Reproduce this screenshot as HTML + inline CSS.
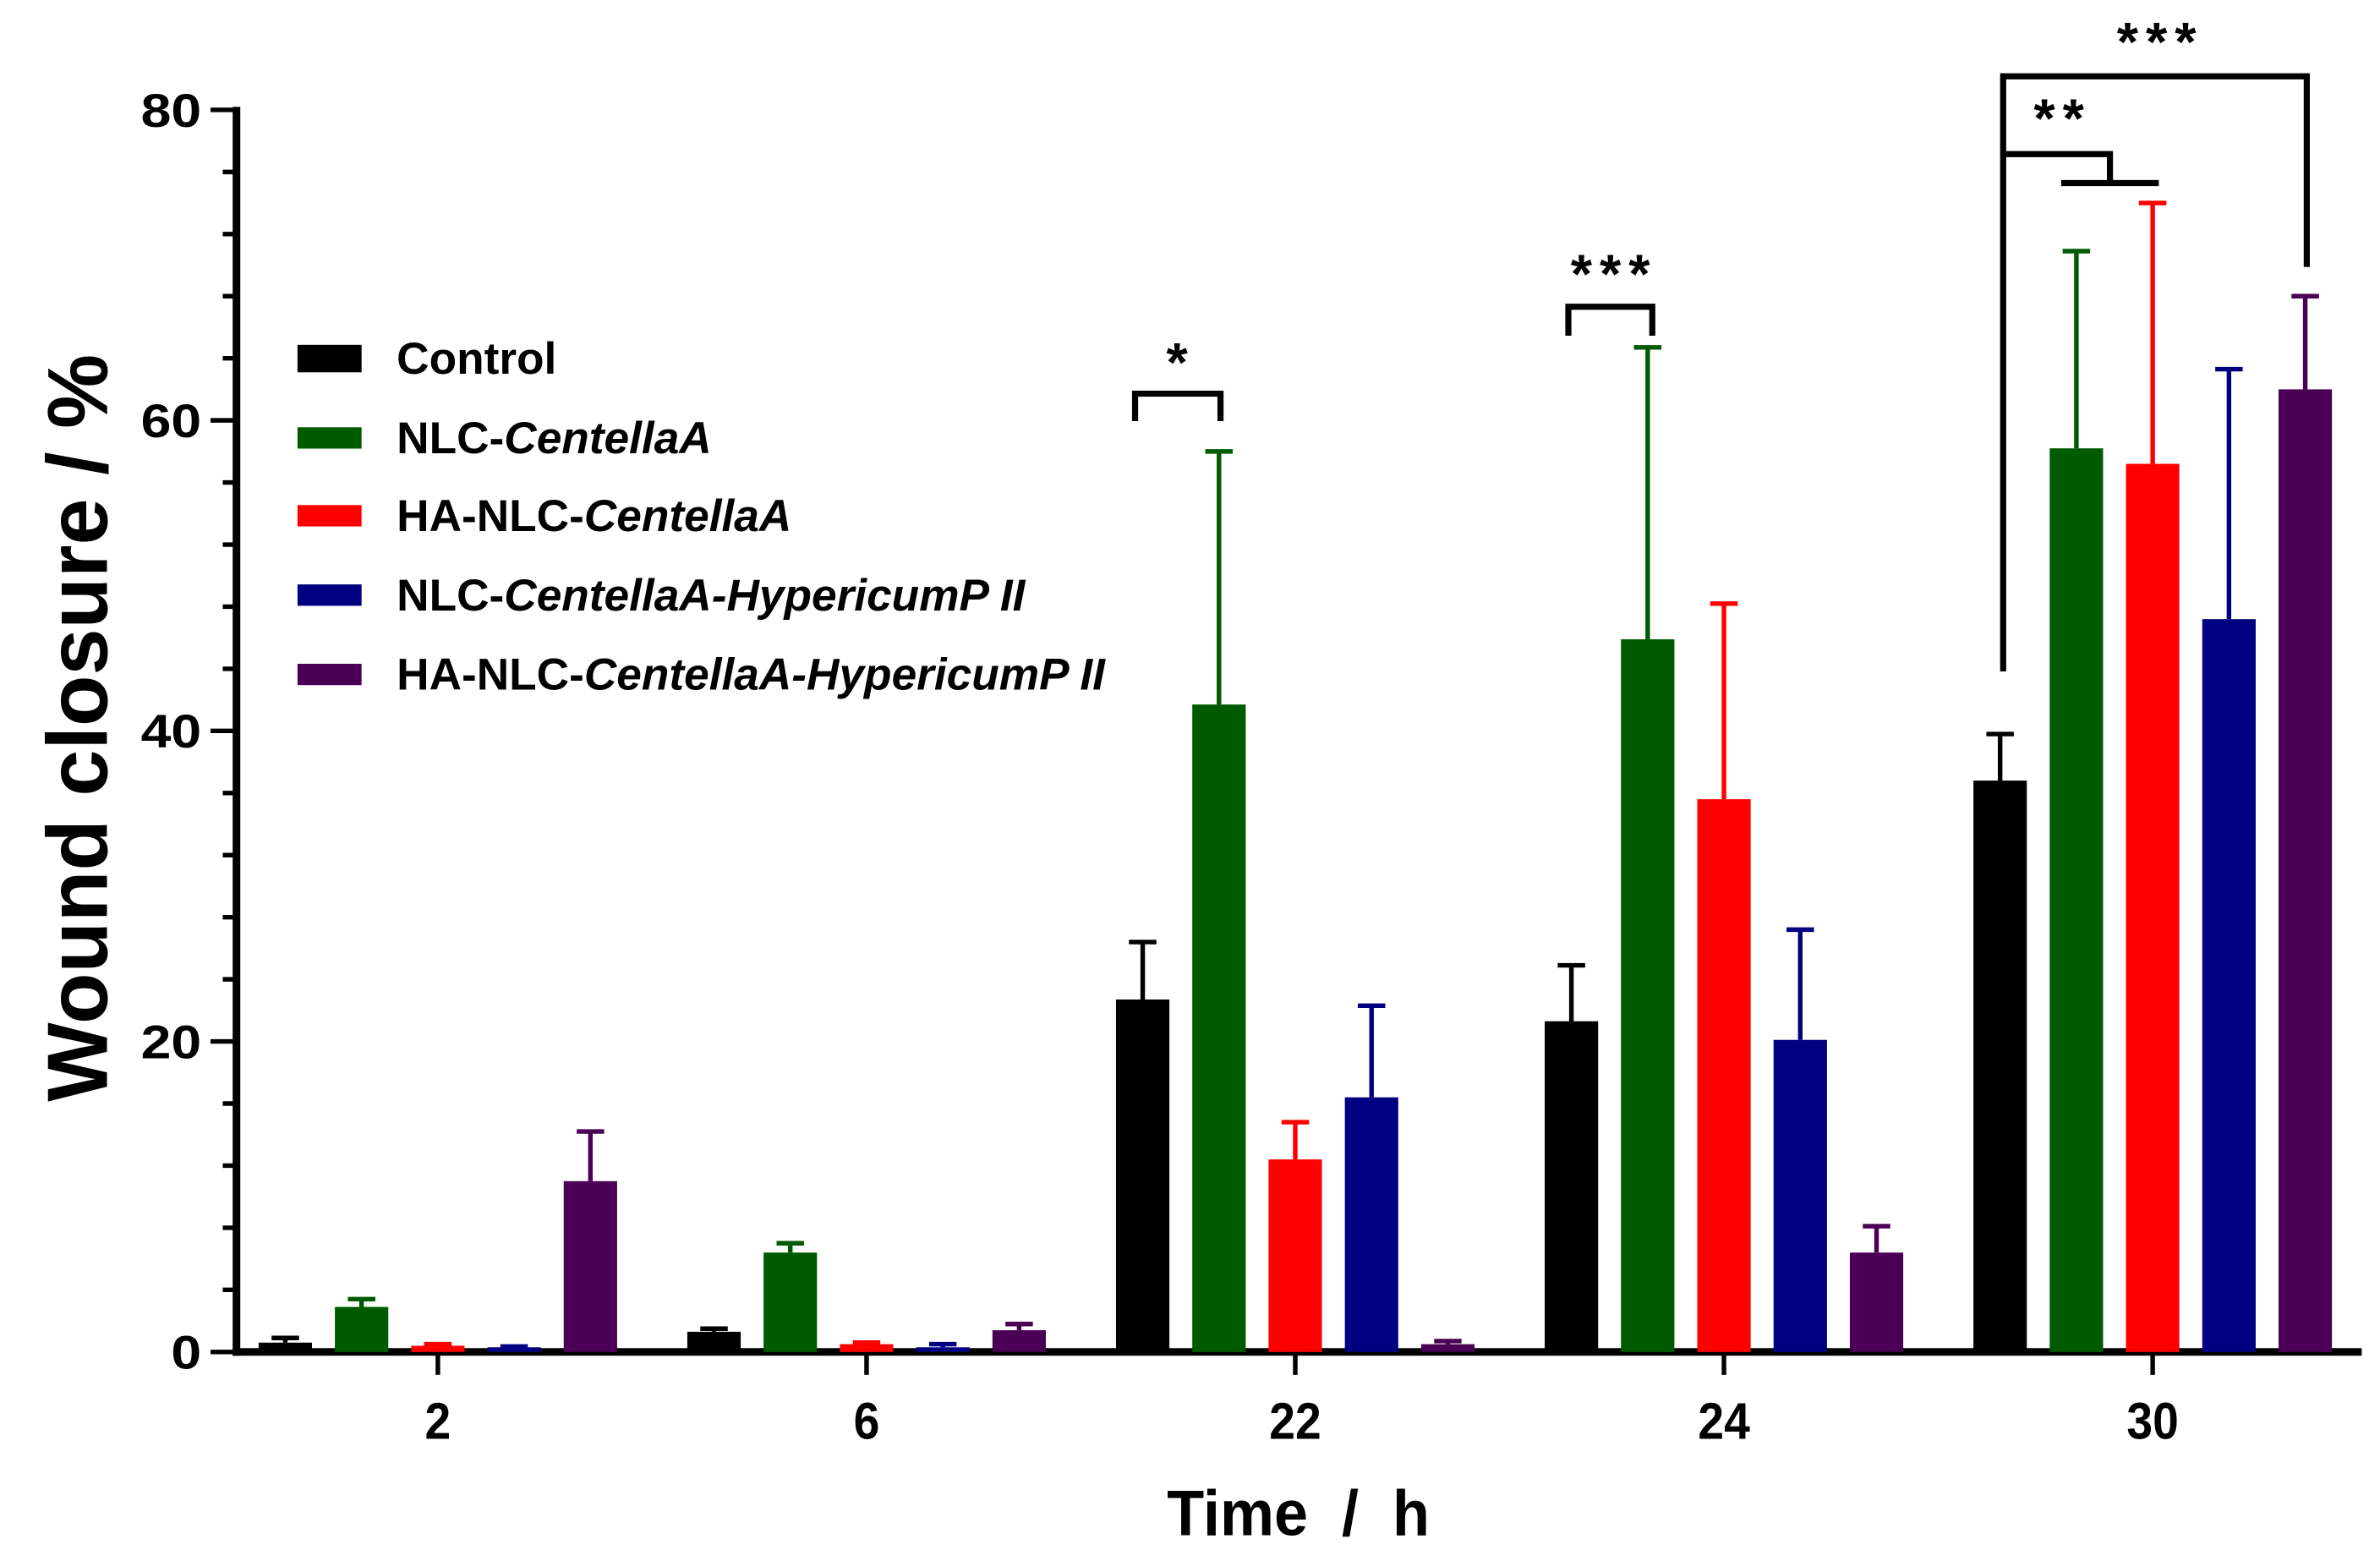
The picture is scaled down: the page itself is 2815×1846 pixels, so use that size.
<!DOCTYPE html>
<html><head><meta charset="utf-8">
<style>
html,body{margin:0;padding:0;background:#fff;}
svg{display:block;}
text{font-family:"Liberation Sans",sans-serif;font-weight:bold;fill:#000;}
</style></head>
<body>
<svg id="chart" width="2815" height="1846" viewBox="0 0 1560 1023" xmlns="http://www.w3.org/2000/svg">
<g id="axes"></g>
<g id="bars"></g>
<g id="sig"></g>
<g id="legend"></g>
<text transform="translate(70,477) rotate(-90) scale(0.98,1)" text-anchor="middle" font-size="56">Wound closure / %</text>
<text transform="translate(851,1006) scale(0.95,1)" text-anchor="middle" font-size="42" xml:space="preserve">Time  /  h</text>
</svg>
<script>
const categories = ["2","6","22","24","30"];
const seriesNames = ["Control","NLC-","HA-NLC-","NLC-","HA-NLC-"];
const seriesItalic = ["","CentellaA","CentellaA","CentellaA-HypericumP II","CentellaA-HypericumP II"];
const seriesColors = ["#000000","#005a00","#ff0000","#000080","#4a0055"];
const controlVals = [0.6,1.3,22.7,21.3,36.8];
const nlcVals = [2.9,6.4,41.7,45.9,58.2];
const haNlcVals = [0.4,0.5,12.4,35.6,57.2];
const nlcHypVals = [0.3,0.3,16.4,20.1,47.2];
const haNlcHypVals = [11.0,1.4,0.5,6.4,62.0];
const controlErr = [0.3,0.2,3.7,3.6,3.0];
const nlcErr = [0.5,0.6,16.3,18.8,12.7];
const haNlcErr = [0.1,0.1,2.4,12.6,16.8];
const nlcHypErr = [0.05,0.2,5.9,7.1,16.1];
const haNlcHypErr = [3.2,0.4,0.2,1.7,6.0];
const yTicks = [0,20,40,60,80];

const NS="http://www.w3.org/2000/svg";
const x0=155,x1=1548,yTop=72,yBot=886;
const yS=v=>yBot-(v/80)*(yBot-yTop);
const gx=i=>287+i*281;
const pitch=50,bw=35;
function mk(tag,attrs,parent){const e=document.createElementNS(NS,tag);for(const k in attrs)e.setAttribute(k,attrs[k]);parent.appendChild(e);return e;}

const axes=document.getElementById('axes');
let e=mk('line',{x1:x0,y1:yTop-2,x2:x0,y2:yBot+2.5,stroke:'#000','stroke-width':5},axes);


for(let v=0;v<=80;v+=4){
  const major=v%20===0;
  e=mk('line',{x1:major?138:146,y1:yS(v),x2:x0,y2:yS(v),stroke:'#000','stroke-width':3},axes);
  
  
}
yTicks.forEach(v=>{
  e=mk('text',{x:0,y:0,'text-anchor':'end','font-size':31,transform:`translate(132,${yS(v)+11}) scale(1.15,1)`},axes);
  e.textContent=v;
  
  
});
e=mk('line',{x1:x0-2.5,y1:yBot,x2:x1,y2:yBot,stroke:'#000','stroke-width':5},axes);


categories.forEach((c,i)=>{
  e=mk('line',{x1:gx(i),y1:yBot,x2:gx(i),y2:yBot+15,stroke:'#000','stroke-width':3},axes);
  
  
  e=mk('text',{x:0,y:0,'text-anchor':'middle','font-size':34,transform:`translate(${gx(i)},${yBot+57}) scale(0.9,1)`},axes);
  e.textContent=c;
  
  
});

const vals=[controlVals,nlcVals,haNlcVals,nlcHypVals,haNlcHypVals];
const errs=[controlErr,nlcErr,haNlcErr,nlcHypErr,haNlcHypErr];
const bars=document.getElementById('bars');
categories.forEach((c,i)=>{
  for(let s=0;s<5;s++){
    const cx=gx(i)+(s-2)*pitch, v=vals[s][i], er=errs[s][i], col=seriesColors[s];
    const yt=yS(v+er);
    e=mk('line',{x1:cx,y1:yS(v),x2:cx,y2:yt,stroke:col,'stroke-width':3},bars);
    
    
    e=mk('line',{x1:cx-9,y1:yt,x2:cx+9,y2:yt,stroke:col,'stroke-width':3},bars);
    
    
    e=mk('rect',{x:cx-bw/2,y:yS(v),width:bw,height:yBot-yS(v),fill:col},bars);
    
    
  }
});

const sig=document.getElementById('sig');
function path(d,name){const p=mk('path',{d:d,fill:'none',stroke:'#000','stroke-width':4},sig);}
function stars(x,y,t,name){const s=mk('text',{x:x,y:y,'text-anchor':'middle','font-size':36,'letter-spacing':5},sig);s.textContent=t;}
path('M744,276 V258 H800 V276','bracket-22h');
stars(774,250,'*','stars-22h');
path('M1028,220 V201 H1083 V220','bracket-24h');
stars(1058,192,'***','stars-24h');
path('M1313,440 V50 H1512 V175','bracket-30h-outer');
stars(1416,40,'***','stars-30h-outer');
path('M1313,101 H1383 V120 M1351,120 H1415','bracket-30h-inner');
stars(1352,90,'**','stars-30h-inner');

const legend=document.getElementById('legend');
const ly=[235,287,338,390,442];
for(let s=0;s<5;s++){
  e=mk('rect',{x:195,y:ly[s]-(s===0?9:7),width:42,height:s===0?18:14,fill:seriesColors[s]},legend);
  
  
  const t=mk('text',{x:260,y:ly[s]+10,'font-size':29.5},legend);
  
  
  t.appendChild(document.createTextNode(seriesNames[s]));
  if(seriesItalic[s]){const ts=mk('tspan',{'font-style':'italic'},t);ts.textContent=seriesItalic[s];}
}
</script>
</body></html>
